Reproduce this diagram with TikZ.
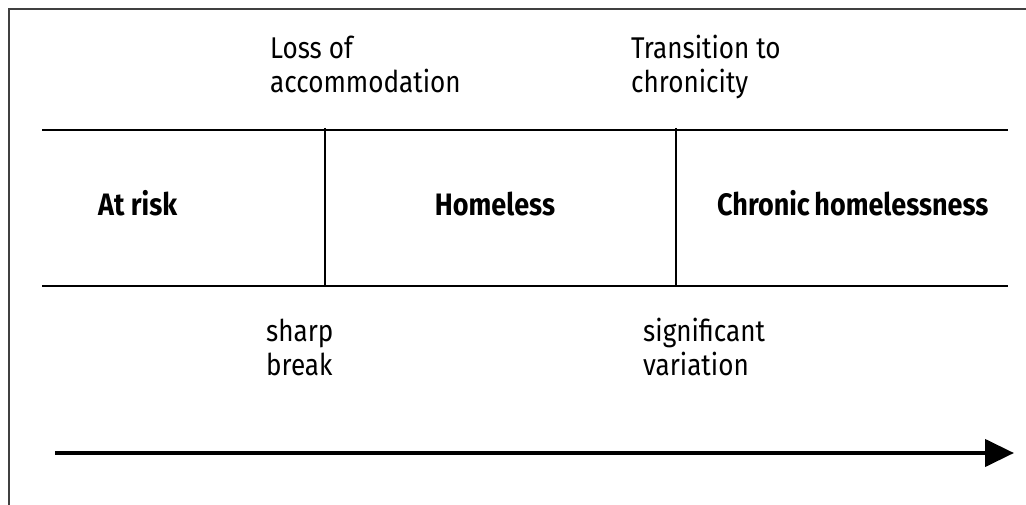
\documentclass[tikz,border=0pt]{standalone}
\usepackage{fontspec}
\setmainfont{Fira Sans}[FakeStretch=0.87]
\usetikzlibrary{arrows.meta}
\begin{document}
\begin{tikzpicture}[x=1pt,y=-1pt,
  frame/.style={draw=black!75,line width=2pt},
  rule/.style={draw=black,line width=2.6pt},
  label/.style={anchor=base west,inner sep=0pt,font=\fontsize{30}{34}\selectfont,align=left},
  phase/.style={anchor=base,inner sep=0pt,font=\fontsize{31}{34}\selectfont\bfseries},
  timeline/.style={draw=black,line width=4.3pt,-{Triangle[length=29pt,width=27pt]}}]
  \useasboundingbox (0,0) rectangle (1026,505);
  % outer frame (top and left edges)
  \coordinate (fa) at (9,505);
  \coordinate (fb) at (9,9);
  \coordinate (fc) at (1026,9);
  \draw[frame] (fa) -- (fb) -- (fc);
  % band boundaries
  \coordinate (tl) at (42,130);
  \coordinate (tr) at (1008,130);
  \coordinate (bl) at (42,286);
  \coordinate (br) at (1008,286);
  \draw[rule] (tl) -- (tr);
  \draw[rule] (bl) -- (br);
  \coordinate (v1t) at (325,128);
  \coordinate (v1b) at (325,286);
  \coordinate (v2t) at (676,128);
  \coordinate (v2b) at (676,286);
  \draw[rule] (v1t) -- (v1b);
  \draw[rule] (v2t) -- (v2b);
  % phases
  \node[phase,anchor=base west] (risk) at (98,216) {At risk};
  \node[phase] (homeless) at (495,216) {Homeless};
  \node[phase,anchor=base west] (chronic) at (717,216) {Chronic\hspace{0.15em}homelessness};
  % transitions
  \node[label] (loss) at (270,93) {Loss of\\accommodation};
  \node[label] (trans) at (631,93) {Transition to\\chronicity};
  \node[label] (sharp) at (266,375) {sharp\\break};
  \node[label] (signif) at (643,375) {significant\\variation};
  % time arrow
  \coordinate (ts) at (55,453);
  \coordinate (te) at (1014,453);
  \draw[timeline] (ts) -- (te);
\end{tikzpicture}
\end{document}
